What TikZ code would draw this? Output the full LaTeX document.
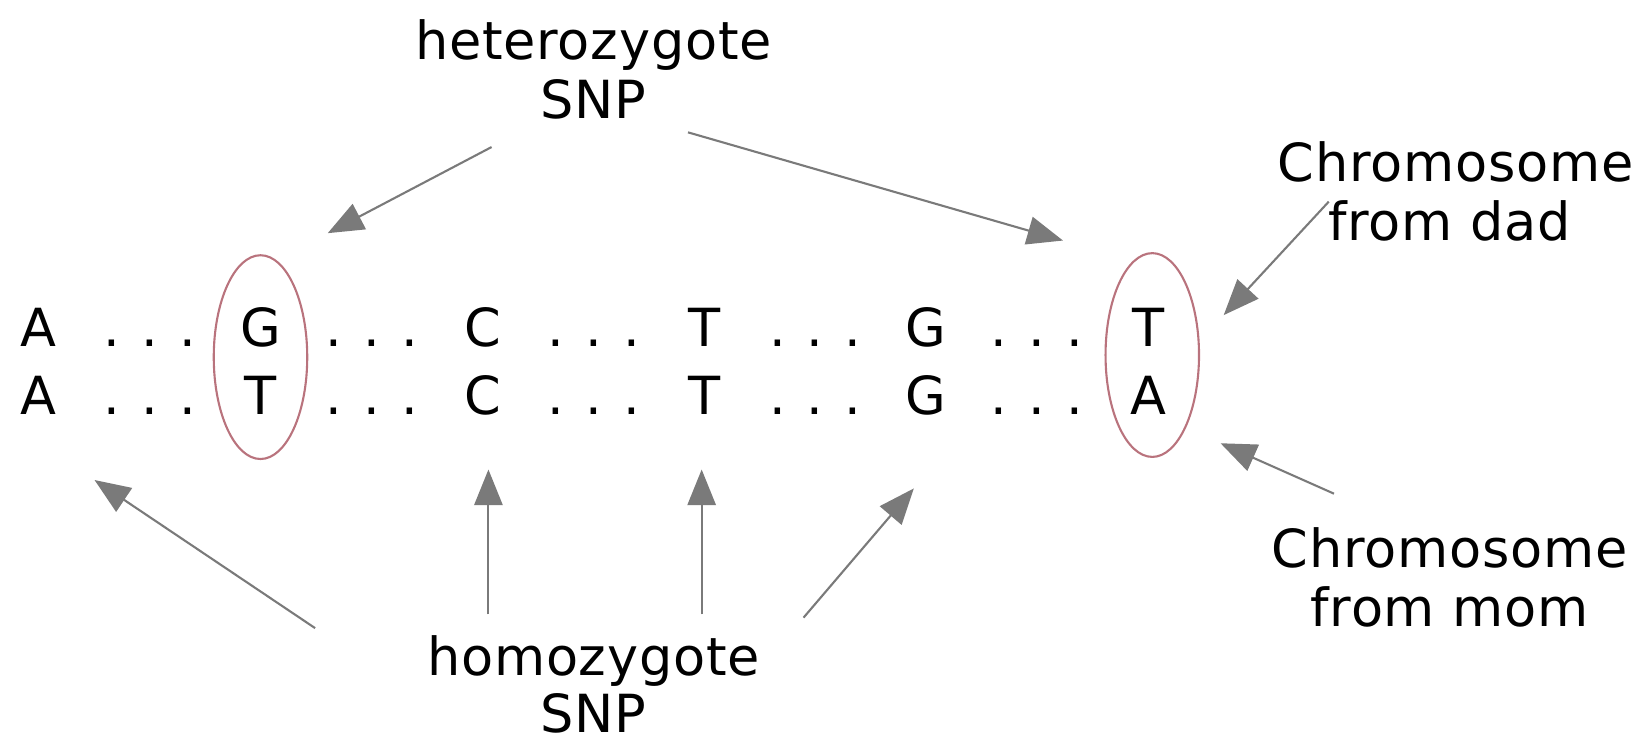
\documentclass[tikz,border=0pt]{standalone}
\usepackage{fontspec}
\setmainfont[LetterSpace=1.5]{DejaVu Sans}
\usetikzlibrary{arrows.meta,shapes.geometric}
\definecolor{argray}{RGB}{122,122,122}
\definecolor{ellred}{RGB}{185,115,125}
\begin{document}
\begin{tikzpicture}[x=0.5pt,y=-0.5pt,
  lbl/.style={inner sep=0pt,anchor=base,font=\fontsize{25}{30}\selectfont},
  nuc/.style={lbl},
  ptr/.style={draw=argray,line width=1pt,-{Triangle[length=17pt,width=13.5pt]}},
  snpring/.style={draw=ellred,line width=1pt,ellipse,inner sep=0pt,minimum width=44.5pt,minimum height=97pt}
]
\useasboundingbox (0,0) rectangle (1568,705);

% nucleotide rows
\foreach \i/\a/\b in {0/A/A,1/G/T,2/C/C,3/T/T,4/G/G,5/T/A} {
  \node[nuc] (top\i) at (37+211.2*\i,330) {\a};
  \node[nuc] (bot\i) at (37+211.2*\i,395) {\b};
}
\foreach \i in {0,...,4} {
  \node[nuc] (dtop\i) at (142.6+211.2*\i,330) {.\hspace{10.1pt}.\hspace{10.1pt}.};
  \node[nuc] (dbot\i) at (142.6+211.2*\i,395) {.\hspace{10.1pt}.\hspace{10.1pt}.};
}

% SNP rings
\node[snpring] (ring1) at (248,340) {};
\node[snpring] (ring2) at (1097,338) {};

% labels
\node[lbl] (het1) at (565,57) {heterozygote};
\node[lbl] (het2) at (565,113) {SNP};
\node[lbl] (dad1) at (1386,173) {Chromosome};
\node[lbl] (dad2) at (1380,229) {from dad};
\node[lbl] (mom1) at (1380,540) {Chromosome};
\node[lbl] (mom2) at (1380,596) {from mom};
\node[lbl] (hom1) at (565,643) {homozygote};
\node[lbl] (hom2) at (565,697) {SNP};

% arrow end points
\coordinate (hetLs) at (468,140);  \coordinate (hetLe) at (312,222);
\coordinate (hetRs) at (655,126);  \coordinate (hetRe) at (1012,229);
\coordinate (dads)  at (1265,192); \coordinate (dade)  at (1165,300);
\coordinate (moms)  at (1270,470); \coordinate (mome)  at (1162,422);
\coordinate (homAs) at (300,598);  \coordinate (homAe) at (90,457);
\coordinate (homBs) at (465,585);  \coordinate (homBe) at (465,447);
\coordinate (homCs) at (668,585);  \coordinate (homCe) at (668,447);
\coordinate (homDs) at (765,588);  \coordinate (homDe) at (870,465);

\draw[ptr] (hetLs) -- (hetLe);
\draw[ptr] (hetRs) -- (hetRe);
\draw[ptr] (dads) -- (dade);
\draw[ptr] (moms) -- (mome);
\draw[ptr] (homAs) -- (homAe);
\draw[ptr] (homBs) -- (homBe);
\draw[ptr] (homCs) -- (homCe);
\draw[ptr] (homDs) -- (homDe);
\end{tikzpicture}
\end{document}
